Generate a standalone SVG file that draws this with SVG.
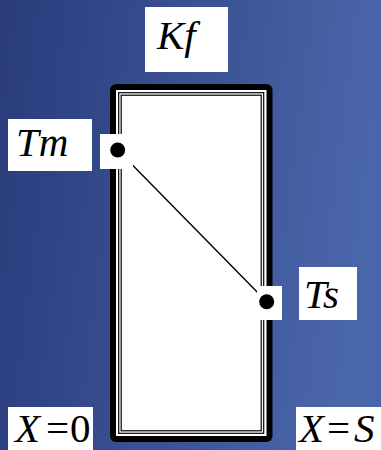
<svg xmlns="http://www.w3.org/2000/svg" width="381" height="450" viewBox="0 0 381 450">
<defs>
<linearGradient id="bg" x1="0" y1="0" x2="1" y2="0.15">
<stop offset="0" stop-color="#293b7b"/>
<stop offset="1" stop-color="#4a66aa"/>
</linearGradient>
</defs>
<style>
.lbl{fill:#fff}
.t{font-size:41px;fill:#000}
.i{font-style:italic}
.thin{fill:none;stroke:#000;stroke-width:1.2}
</style>
<rect width="381" height="450" fill="url(#bg)"/>
<g id="slab">
<rect x="110" y="84" width="162.5" height="358" rx="6" fill="#000"/>
<rect x="116" y="90" width="150.5" height="346" fill="#fff"/>
<rect x="118.7" y="92.7" width="145" height="340.6" class="thin"/>
<rect x="121.2" y="95.2" width="140" height="335.6" class="thin"/>
</g>
<g id="connectors">
<line x1="117.7" y1="150" x2="266.7" y2="301.7" stroke="#000" stroke-width="1.4"/>
</g>
<g id="Tm-point">
<rect x="100" y="134" width="33" height="35" class="lbl"/>
<circle cx="117.7" cy="150" r="7.5" fill="#000"/>
</g>
<g id="Ts-point">
<rect x="257" y="286" width="25" height="34" class="lbl"/>
<circle cx="266.7" cy="301.7" r="7.5" fill="#000"/>
</g>
<g font-family="'Liberation Serif', 'Times New Roman', serif">
<g id="Kf">
<rect x="145" y="7" width="83" height="65" class="lbl"/>
<text x="157" y="49" class="t i">Kf</text>
</g>
<g id="Tm">
<rect x="8" y="119" width="84" height="52" class="lbl"/>
<text x="16" y="156" class="t i">Tm</text>
</g>
<g id="Ts">
<rect x="299" y="267" width="58" height="53" class="lbl"/>
<text x="304" y="308" class="t i">Ts</text>
</g>
<g id="X0">
<rect x="8" y="407" width="85" height="43" class="lbl"/>
<text y="442" class="t"><tspan x="15" class="i">X</tspan><tspan x="46">=</tspan><tspan x="70">0</tspan></text>
</g>
<g id="XS">
<rect x="296" y="407" width="85" height="43" class="lbl"/>
<text y="442" class="t"><tspan x="299" class="i">X</tspan><tspan x="327">=</tspan><tspan x="354" class="i">S</tspan></text>
</g>
</g>
</svg>
